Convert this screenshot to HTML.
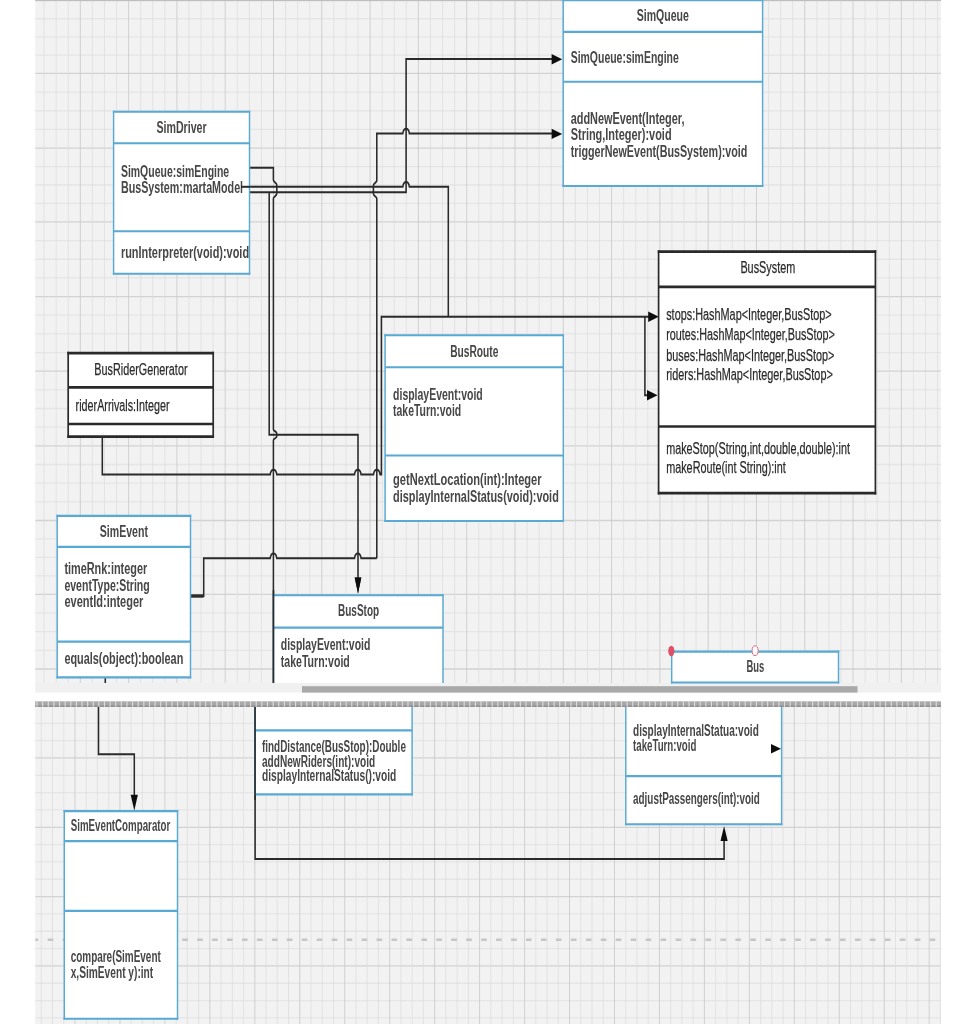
<!DOCTYPE html>
<html lang="en"><head><meta charset="utf-8"><title>UML class diagram</title>
<style>
html,body{margin:0;padding:0;background:#fff;}
body{width:963px;height:1024px;overflow:hidden;}
svg{display:block;}
text{font-family:"Liberation Sans",sans-serif;}
text.b{fill:#464646;font-weight:bold;}
text.k{fill:#2b2b2b;stroke:#2b2b2b;stroke-width:0.25px;}
</style></head><body>
<svg width="963" height="1024" viewBox="0 0 963 1024">
<defs><filter id="soft" x="-8" y="-8" width="979" height="1040" filterUnits="userSpaceOnUse"><feGaussianBlur stdDeviation="0.45 0.6"/></filter></defs>
<rect width="963" height="1024" fill="#fff"/>
<g filter="url(#soft)">
<rect x="-8" y="-8" width="979" height="1040" fill="#fff"/>
<rect x="35.25" y="-8" width="905.75" height="691.00" fill="#f2f2f2"/>
<path d="M35.25 18.73H941M35.25 36.95H941M35.25 55.18H941M35.25 92.08H941M35.25 110.75H941M35.25 129.43H941M35.25 166.55H941M35.25 185.00H941M35.25 203.45H941M35.25 240.56H941M35.25 259.23H941M35.25 277.89H941M35.25 315.21H941M35.25 333.88H941M35.25 352.54H941M35.25 389.86H941M35.25 408.52H941M35.25 427.19H941M35.25 464.51H941M35.25 483.18H941M35.25 501.84H941M35.25 538.95H941M35.25 557.40H941M35.25 575.85H941M35.25 612.97H941M35.25 631.65H941M35.25 650.33H941" stroke="#e5e5e5" stroke-width="1.3" fill="none"/>
<path d="M35.25 0.50H941M35.25 73.40H941M35.25 148.10H941M35.25 221.90H941M35.25 296.55H941M35.25 371.20H941M35.25 445.85H941M35.25 520.50H941M35.25 594.30H941M35.25 669.00H941" stroke="#d2d2d2" stroke-width="1.3" fill="none"/>
<path d="M44.10 -8V683M56.17 -8V683M68.25 -8V683M92.40 -8V683M104.47 -8V683M116.54 -8V683M140.69 -8V683M152.77 -8V683M164.84 -8V683M188.99 -8V683M201.06 -8V683M213.14 -8V683M237.28 -8V683M249.36 -8V683M261.43 -8V683M285.58 -8V683M297.65 -8V683M309.73 -8V683M333.88 -8V683M345.95 -8V683M358.02 -8V683M382.17 -8V683M394.25 -8V683M406.32 -8V683M430.47 -8V683M442.54 -8V683M454.62 -8V683M478.76 -8V683M490.84 -8V683M502.91 -8V683M527.06 -8V683M539.13 -8V683M551.21 -8V683M575.36 -8V683M587.43 -8V683M599.50 -8V683M623.65 -8V683M635.73 -8V683M647.80 -8V683M671.95 -8V683M684.02 -8V683M696.10 -8V683M720.24 -8V683M732.32 -8V683M744.39 -8V683M768.54 -8V683M780.61 -8V683M792.69 -8V683M816.84 -8V683M828.91 -8V683M840.98 -8V683M865.13 -8V683M877.21 -8V683M889.28 -8V683M913.43 -8V683M925.50 -8V683M937.58 -8V683" stroke="#dadada" stroke-width="0.65" fill="none"/>
<path d="M80.32 -8V683M128.62 -8V683M176.91 -8V683M225.21 -8V683M273.51 -8V683M321.80 -8V683M370.10 -8V683M418.39 -8V683M466.69 -8V683M514.99 -8V683M563.28 -8V683M611.58 -8V683M659.87 -8V683M708.17 -8V683M756.47 -8V683M804.76 -8V683M853.06 -8V683M901.35 -8V683" stroke="#c8c8c8" stroke-width="0.8" fill="none"/>
<path d="M35.25 0.5H941" stroke="#bdbdbd" stroke-width="1.2" fill="none"/>
<rect x="35.25" y="683" width="905.75" height="9.8" fill="#f0f0f0"/>
<rect x="35.25" y="706.5" width="905.75" height="325.50" fill="#f2f2f2"/>
<path d="M35.25 705.97H941M35.25 723.30H941M35.25 740.63H941M35.25 775.29H941M35.25 792.62H941M35.25 809.95H941M35.25 844.61H941M35.25 861.94H941M35.25 879.27H941M35.25 913.93H941M35.25 931.26H941M35.25 948.59H941M35.25 983.25H941M35.25 1000.58H941M35.25 1017.91H941" stroke="#e5e5e5" stroke-width="1.3" fill="none"/>
<path d="M35.25 757.96H941M35.25 827.28H941M35.25 896.60H941M35.25 965.92H941" stroke="#d2d2d2" stroke-width="1.3" fill="none"/>
<path d="M41.25 706.5V1032M52.49 706.5V1032M63.73 706.5V1032M86.21 706.5V1032M97.45 706.5V1032M108.69 706.5V1032M131.17 706.5V1032M142.41 706.5V1032M153.65 706.5V1032M176.13 706.5V1032M187.37 706.5V1032M198.61 706.5V1032M221.09 706.5V1032M232.33 706.5V1032M243.57 706.5V1032M266.05 706.5V1032M277.29 706.5V1032M288.53 706.5V1032M311.01 706.5V1032M322.25 706.5V1032M333.49 706.5V1032M355.97 706.5V1032M367.21 706.5V1032M378.45 706.5V1032M400.93 706.5V1032M412.17 706.5V1032M423.41 706.5V1032M445.89 706.5V1032M457.13 706.5V1032M468.37 706.5V1032M490.85 706.5V1032M502.09 706.5V1032M513.33 706.5V1032M535.81 706.5V1032M547.05 706.5V1032M558.29 706.5V1032M580.77 706.5V1032M592.01 706.5V1032M603.25 706.5V1032M625.73 706.5V1032M636.97 706.5V1032M648.21 706.5V1032M670.69 706.5V1032M681.93 706.5V1032M693.17 706.5V1032M715.65 706.5V1032M726.89 706.5V1032M738.13 706.5V1032M760.61 706.5V1032M771.85 706.5V1032M783.09 706.5V1032M805.57 706.5V1032M816.81 706.5V1032M828.05 706.5V1032M850.53 706.5V1032M861.77 706.5V1032M873.01 706.5V1032M895.49 706.5V1032M906.73 706.5V1032M917.97 706.5V1032M940.45 706.5V1032" stroke="#dadada" stroke-width="0.65" fill="none"/>
<path d="M74.97 706.5V1032M119.93 706.5V1032M164.89 706.5V1032M209.85 706.5V1032M254.81 706.5V1032M299.77 706.5V1032M344.73 706.5V1032M389.69 706.5V1032M434.65 706.5V1032M479.61 706.5V1032M524.57 706.5V1032M569.53 706.5V1032M614.49 706.5V1032M659.45 706.5V1032M704.41 706.5V1032M749.37 706.5V1032M794.33 706.5V1032M839.29 706.5V1032M884.25 706.5V1032M929.21 706.5V1032" stroke="#c8c8c8" stroke-width="0.8" fill="none"/>
<path transform="scale(1,1.3)" d="M249.4 129.08H273.4V138.46C273.4 140.15 276.8 140.31 276.8 142.31V148.92C276.8 150.92 273.4 151.08 273.4 152.62V330.31C273.4 331.69 276.8 331.85 276.8 333.38V335.54C276.8 337.08 273.4 337.23 273.4 338.62V525.38" stroke="#2a2a2a" stroke-width="1.55" fill="none" stroke-linejoin="miter"/>
<path transform="scale(1,1.3)" d="M241 143.69L402.8 143.69Q403.4 140 406.1 140Q408.8 140 409.4 143.69H448.3V243.69" stroke="#2a2a2a" stroke-width="1.55" fill="none" stroke-linejoin="miter"/>
<path transform="scale(1,1.3)" d="M249.5 147.92H406.1V45.31H553" stroke="#2a2a2a" stroke-width="1.55" fill="none" stroke-linejoin="miter"/>
<path transform="scale(1,1.3)" d="M269.2 147.92V334.46H358V445.38" stroke="#2a2a2a" stroke-width="1.55" fill="none" stroke-linejoin="miter"/>
<path transform="scale(1,1.3)" d="M553 102.77H409.4Q408.8 99.08 406.1 99.08Q403.4 99.08 402.8 102.77H376.8V138.92C376.8 140.62 373.4 140.77 373.4 142.62V149.08C373.4 150.92 376.8 151.08 376.8 152.62V429.38" stroke="#2a2a2a" stroke-width="1.55" fill="none" stroke-linejoin="miter"/>
<path transform="scale(1,1.3)" d="M376.8 429.38H361.1Q360.5 425.69 357.8 425.69Q355.1 425.69 354.5 429.38H276.8Q276.2 425.69 273.5 425.69Q270.8 425.69 270.2 429.38H203.7V458.46H190.3" stroke="#2a2a2a" stroke-width="1.55" fill="none" stroke-linejoin="miter"/>
<path transform="scale(1,1.3)" d="M102.3 335.92V365H270.2Q270.8 361.31 273.5 361.31Q276.2 361.31 276.8 365H354.5Q355.1 361.31 357.8 361.31Q360.5 361.31 361.1 365H373.5Q374.1 361.31 376.8 361.31Q379.5 361.31 380.1 365H381.4V243.69H650" stroke="#2a2a2a" stroke-width="1.55" fill="none" stroke-linejoin="miter"/>
<path transform="scale(1,1.3)" d="M644.9 243.69V304H650" stroke="#2a2a2a" stroke-width="1.55" fill="none" stroke-linejoin="miter"/>
<path d="M658.8 316.7L648.1999999999999 311.5V321.9Z" fill="#111"/>
<path d="M657.6 395.3L647.0 390.1V400.5Z" fill="#111"/>
<path d="M562.2 59.3L551.6 54.099999999999994V64.5Z" fill="#111"/>
<path d="M562.2 133.9L551.6 128.70000000000002V139.1Z" fill="#111"/>
<path d="M358 593.6L354.7 577.6H361.3Z" fill="#111"/>
<path transform="scale(1,1.3)" d="M105.3 520.77V525.38" stroke="#2a2a2a" stroke-width="1.55" fill="none" stroke-linejoin="miter"/>
<path transform="scale(1,1.3)" d="M190.3 458.46H203.7" stroke="#2a2a2a" stroke-width="2.6" fill="none" stroke-linejoin="miter"/>
<rect x="563.2" y="0.3" width="199.40" height="185.70" fill="#fff"/>
<path d="M563.2 -0.75V187.05M762.6 -0.75V187.05" stroke="#58a9d3" stroke-width="1.45" fill="none"/>
<path d="M562.475 0.3H763.325M562.475 186H763.325M563.2 31.9H762.6M563.2 81.7H762.6" stroke="#58a9d3" stroke-width="2.1" fill="none"/>
<text class="b" x="636.70" y="20.90" font-size="17.2" textLength="52.10" lengthAdjust="spacingAndGlyphs">SimQueue</text>
<text class="b" x="570.70" y="62.80" font-size="16.8" textLength="108.10" lengthAdjust="spacingAndGlyphs">SimQueue:simEngine</text>
<text class="b" x="570.70" y="123.90" font-size="16.8" textLength="113.80" lengthAdjust="spacingAndGlyphs">addNewEvent(Integer,</text>
<text class="b" x="570.70" y="139.80" font-size="16.8" textLength="100.90" lengthAdjust="spacingAndGlyphs">String,Integer):void</text>
<text class="b" x="570.70" y="156.80" font-size="16.8" textLength="176.70" lengthAdjust="spacingAndGlyphs">triggerNewEvent(BusSystem):void</text>
<rect x="113.6" y="111.7" width="135.90" height="162.10" fill="#fff"/>
<path d="M113.6 110.65V274.85M249.5 110.65V274.85" stroke="#58a9d3" stroke-width="1.45" fill="none"/>
<path d="M112.875 111.7H250.225M112.875 273.8H250.225M113.6 143.3H249.5M113.6 231.3H249.5" stroke="#58a9d3" stroke-width="2.1" fill="none"/>
<text class="b" x="156.40" y="132.50" font-size="17.2" textLength="50.20" lengthAdjust="spacingAndGlyphs">SimDriver</text>
<text class="b" x="120.90" y="177.40" font-size="16.8" textLength="108.30" lengthAdjust="spacingAndGlyphs">SimQueue:simEngine</text>
<text class="b" x="120.90" y="193.10" font-size="16.8" textLength="122.20" lengthAdjust="spacingAndGlyphs">BusSystem:martaModel</text>
<text class="b" x="120.90" y="257.50" font-size="16.8" textLength="128.20" lengthAdjust="spacingAndGlyphs">runInterpreter(void):void</text>
<path transform="scale(1,1.3)" d="M241 143.69H250" stroke="#2a2a2a" stroke-width="1.55" fill="none" stroke-linejoin="miter"/>
<rect x="658.6" y="251.6" width="216.80" height="241.60" fill="#fff"/>
<path d="M658.6 250.25V494.55M875.4 250.25V494.55" stroke="#2a2a2a" stroke-width="1.7" fill="none"/>
<path d="M657.75 251.6H876.25M657.75 493.2H876.25M658.6 286.9H875.4M658.6 426.5H875.4" stroke="#2a2a2a" stroke-width="2.7" fill="none"/>
<text class="k" x="740.40" y="272.90" font-size="16.8" textLength="54.80" lengthAdjust="spacingAndGlyphs">BusSystem</text>
<text class="k" x="666.20" y="320.10" font-size="16.8" textLength="165.50" lengthAdjust="spacingAndGlyphs">stops:HashMap&lt;Integer,BusStop&gt;</text>
<text class="k" x="666.20" y="339.60" font-size="16.8" textLength="168.70" lengthAdjust="spacingAndGlyphs">routes:HashMap&lt;Integer,BusStop&gt;</text>
<text class="k" x="666.20" y="360.60" font-size="16.8" textLength="168.20" lengthAdjust="spacingAndGlyphs">buses:HashMap&lt;Integer,BusStop&gt;</text>
<text class="k" x="666.20" y="380.40" font-size="16.8" textLength="166.60" lengthAdjust="spacingAndGlyphs">riders:HashMap&lt;Integer,BusStop&gt;</text>
<text class="k" x="666.20" y="453.80" font-size="16.8" textLength="183.80" lengthAdjust="spacingAndGlyphs">makeStop(String,int,double,double):int</text>
<text class="k" x="666.20" y="473.20" font-size="16.8" textLength="119.60" lengthAdjust="spacingAndGlyphs">makeRoute(int String):int</text>
<rect x="385.1" y="335.3" width="178.20" height="185.70" fill="#fff"/>
<path d="M385.1 334.25V522.05M563.3 334.25V522.05" stroke="#58a9d3" stroke-width="1.45" fill="none"/>
<path d="M384.375 335.3H564.025M384.375 521H564.025M385.1 367.3H563.3M385.1 455.5H563.3" stroke="#58a9d3" stroke-width="2.1" fill="none"/>
<text class="b" x="450.20" y="357.10" font-size="17.2" textLength="48.20" lengthAdjust="spacingAndGlyphs">BusRoute</text>
<text class="b" x="393.10" y="400.00" font-size="16.8" textLength="89.60" lengthAdjust="spacingAndGlyphs">displayEvent:void</text>
<text class="b" x="393.10" y="416.00" font-size="16.8" textLength="68.10" lengthAdjust="spacingAndGlyphs">takeTurn:void</text>
<text class="b" x="393.10" y="485.00" font-size="16.8" textLength="148.50" lengthAdjust="spacingAndGlyphs">getNextLocation(int):Integer</text>
<text class="b" x="393.10" y="501.50" font-size="16.8" textLength="165.70" lengthAdjust="spacingAndGlyphs">displayInternalStatus(void):void</text>
<rect x="68.2" y="353.2" width="145.00" height="83.50" fill="#fff"/>
<path d="M68.2 351.84999999999997V438.05M213.2 351.84999999999997V438.05" stroke="#2a2a2a" stroke-width="1.7" fill="none"/>
<path d="M67.35000000000001 353.2H214.04999999999998M67.35000000000001 436.7H214.04999999999998M68.2 387.3H213.2M68.2 424H213.2" stroke="#2a2a2a" stroke-width="2.7" fill="none"/>
<text class="k" x="94.30" y="374.90" font-size="16.8" textLength="93.20" lengthAdjust="spacingAndGlyphs">BusRiderGenerator</text>
<text class="k" x="75.60" y="410.70" font-size="16.8" textLength="94.00" lengthAdjust="spacingAndGlyphs">riderArrivals:Integer</text>
<rect x="57.2" y="515.9" width="133.30" height="161.50" fill="#fff"/>
<path d="M57.2 514.85V678.4499999999999M190.5 514.85V678.4499999999999" stroke="#58a9d3" stroke-width="1.45" fill="none"/>
<path d="M56.475 515.9H191.225M56.475 677.4H191.225M57.2 546.9H190.5M57.2 641.6H190.5" stroke="#58a9d3" stroke-width="2.1" fill="none"/>
<text class="b" x="99.80" y="537.10" font-size="17.2" textLength="48.10" lengthAdjust="spacingAndGlyphs">SimEvent</text>
<text class="b" x="64.40" y="573.70" font-size="16.8" textLength="82.80" lengthAdjust="spacingAndGlyphs">timeRnk:integer</text>
<text class="b" x="64.40" y="591.20" font-size="16.8" textLength="85.30" lengthAdjust="spacingAndGlyphs">eventType:String</text>
<text class="b" x="64.40" y="607.20" font-size="16.8" textLength="79.00" lengthAdjust="spacingAndGlyphs">eventId:integer</text>
<text class="b" x="64.40" y="664.20" font-size="16.8" textLength="118.90" lengthAdjust="spacingAndGlyphs">equals(object):boolean</text>
<rect x="273.4" y="595.3" width="169.60" height="87.70" fill="#fff"/>
<path d="M273.4 594.25V683M443 594.25V683" stroke="#58a9d3" stroke-width="1.45" fill="none"/>
<path d="M272.67499999999995 595.3H443.725M273.4 627.6H443" stroke="#58a9d3" stroke-width="2.1" fill="none"/>
<text class="b" x="338.00" y="616.40" font-size="17.2" textLength="41.10" lengthAdjust="spacingAndGlyphs">BusStop</text>
<text class="b" x="280.80" y="650.20" font-size="16.8" textLength="89.60" lengthAdjust="spacingAndGlyphs">displayEvent:void</text>
<text class="b" x="280.80" y="666.70" font-size="16.8" textLength="69.00" lengthAdjust="spacingAndGlyphs">takeTurn:void</text>
<path transform="scale(1,1.3)" d="M273.5 453.85V525.38" stroke="#2a2a2a" stroke-width="1.6" fill="none" stroke-linejoin="miter"/>
<path d="M358 593.6L354.7 577.6H361.3Z" fill="#111"/>
<rect x="671.7" y="651.6" width="166.80" height="30.90" fill="#fff"/>
<path d="M671.7 650.5500000000001V683.55M838.5 650.5500000000001V683.55" stroke="#58a9d3" stroke-width="1.45" fill="none"/>
<path d="M670.975 651.6H839.225M670.975 682.5H839.225" stroke="#58a9d3" stroke-width="2.1" fill="none"/>
<text class="b" x="746.40" y="671.70" font-size="17.2" textLength="17.80" lengthAdjust="spacingAndGlyphs">Bus</text>
<ellipse cx="671.3" cy="651" rx="3.1" ry="5.3" fill="#de5069"/>
<ellipse cx="755.1" cy="650.7" rx="3" ry="4.9" fill="#fff" stroke="#dc6a7e" stroke-width="1"/>
<rect x="302" y="686.2" width="555.5" height="6.6" fill="#a9a9a9"/>
<rect x="0" y="692.75" width="963" height="8.5" fill="#fff"/>
<path d="M35.2 939.8H38.3M47.7 939.8H53.3M62.6 939.8H68.2M77.6 939.8H83.2M92.5 939.8H98.1M107.5 939.8H113.1M122.4 939.8H128.0M137.4 939.8H143.0M152.3 939.8H157.9M167.3 939.8H172.9M182.2 939.8H187.8M197.2 939.8H202.8M212.1 939.8H217.7M227.0 939.8H232.6M242.0 939.8H247.6M256.9 939.8H262.6M271.9 939.8H277.5M286.8 939.8H292.4M301.8 939.8H307.4M316.7 939.8H322.3M331.7 939.8H337.3M346.6 939.8H352.2M361.6 939.8H367.2M376.5 939.8H382.1M391.5 939.8H397.1M406.4 939.8H412.0M421.4 939.8H427.0M436.3 939.8H441.9M451.3 939.8H456.9M466.2 939.8H471.8M481.2 939.8H486.8M496.1 939.8H501.7M511.1 939.8H516.7M526.0 939.8H531.6M541.0 939.8H546.6M555.9 939.8H561.5M570.9 939.8H576.5M585.9 939.8H591.5M600.8 939.8H606.4M615.8 939.8H621.4M630.7 939.8H636.3M645.7 939.8H651.3M660.6 939.8H666.2M675.6 939.8H681.2M690.5 939.8H696.1M705.5 939.8H711.1M720.4 939.8H726.0M735.4 939.8H741.0M750.3 939.8H755.9M765.3 939.8H770.9M780.2 939.8H785.8M795.2 939.8H800.8M810.1 939.8H815.7M825.1 939.8H830.7M840.0 939.8H845.6M855.0 939.8H860.6M869.9 939.8H875.5M884.9 939.8H890.5M899.8 939.8H905.4M914.8 939.8H920.4M929.7 939.8H935.3" stroke="#c6c6c6" stroke-width="2.4" fill="none"/>
<path transform="scale(1,1.3)" d="M98.5 543.08V580.23H134.3V612.31" stroke="#2a2a2a" stroke-width="1.55" fill="none" stroke-linejoin="miter"/>
<path d="M134.3 810.7L130.70000000000002 794.7H137.9Z" fill="#111"/>
<path transform="scale(1,1.3)" d="M255.1 543.08V660.85H724.1V646.15" stroke="#2a2a2a" stroke-width="1.55" fill="none" stroke-linejoin="miter"/>
<path d="M724.1 826L720.5 841H727.7Z" fill="#111"/>
<rect x="64.3" y="811.1" width="113.20" height="207.60" fill="#fff"/>
<path d="M64.3 810.0500000000001V1019.75M177.5 810.0500000000001V1019.75" stroke="#58a9d3" stroke-width="1.45" fill="none"/>
<path d="M63.574999999999996 811.1H178.225M63.574999999999996 1018.7H178.225M64.3 841.1H177.5M64.3 910.9H177.5" stroke="#58a9d3" stroke-width="2.1" fill="none"/>
<text class="b" x="70.70" y="831.10" font-size="16.8" textLength="99.60" lengthAdjust="spacingAndGlyphs">SimEventComparator</text>
<text class="b" x="70.70" y="962.10" font-size="16.0" textLength="90.10" lengthAdjust="spacingAndGlyphs">compare(SimEvent</text>
<text class="b" x="70.70" y="977.90" font-size="16.0" textLength="82.50" lengthAdjust="spacingAndGlyphs">x,SimEvent y):int</text>
<rect x="255.1" y="706" width="157.00" height="88.40" fill="#fff"/>
<path d="M255.1 706V795.4499999999999M412.1 706V795.4499999999999" stroke="#58a9d3" stroke-width="1.45" fill="none"/>
<path d="M254.375 794.4H412.82500000000005M255.1 730.4H412.1" stroke="#58a9d3" stroke-width="2.1" fill="none"/>
<text class="b" x="262.00" y="751.70" font-size="16.0" textLength="143.90" lengthAdjust="spacingAndGlyphs">findDistance(BusStop):Double</text>
<text class="b" x="262.00" y="767.00" font-size="16.0" textLength="113.10" lengthAdjust="spacingAndGlyphs">addNewRiders(int):void</text>
<text class="b" x="262.00" y="781.20" font-size="16.0" textLength="134.30" lengthAdjust="spacingAndGlyphs">displayInternalStatus():void</text>
<path transform="scale(1,1.3)" d="M255.1 543.08V615.38" stroke="#2a2a2a" stroke-width="1.55" fill="none" stroke-linejoin="miter"/>
<rect x="625.8" y="706" width="155.80" height="118.30" fill="#fff"/>
<path d="M625.8 706V825.3499999999999M781.6 706V825.3499999999999" stroke="#58a9d3" stroke-width="1.45" fill="none"/>
<path d="M625.0749999999999 824.3H782.325M625.8 776.1H781.6" stroke="#58a9d3" stroke-width="2.1" fill="none"/>
<text class="b" x="633.10" y="736.20" font-size="16.0" textLength="125.70" lengthAdjust="spacingAndGlyphs">displayInternalStatua:void</text>
<text class="b" x="633.10" y="751.00" font-size="16.0" textLength="63.30" lengthAdjust="spacingAndGlyphs">takeTurn:void</text>
<text class="b" x="633.10" y="804.30" font-size="16.0" textLength="126.80" lengthAdjust="spacingAndGlyphs">adjustPassengers(int):void</text>
<path d="M781 748.7L771 744.0V753.4000000000001Z" fill="#111"/>
<rect x="35.25" y="701" width="905.75" height="5.9" fill="#a8a8a8"/>
<rect x="35.25" y="701" width="905.75" height="1" fill="#c4c4c4"/>
<rect x="35.25" y="705.5" width="905.75" height="1.4" fill="#8e8e8e"/>
<path d="M36.5 703.9H941" stroke="#dcdcdc" stroke-width="5.8" stroke-dasharray="1.1 4.52" fill="none"/>
</g>
</svg>
</body></html>
